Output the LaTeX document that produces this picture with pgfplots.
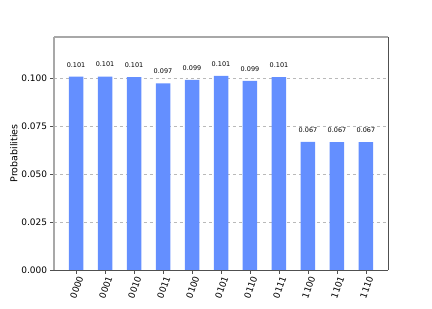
\documentclass[border=0pt]{standalone}
\usepackage{pgfplots}
\pgfplotsset{compat=1.18}
\usepackage{fontspec}
\setmainfont{DejaVu Sans}
\definecolor{barblue}{HTML}{648FFF}
\definecolor{spinegray}{HTML}{A8A8A8}
\definecolor{spinedark}{HTML}{505050}
\begin{document}
\begin{tikzpicture}
\useasboundingbox (0,0) rectangle (432bp,309bp);
\begin{axis}[
  at={(54bp,39bp)}, anchor=south west,
  scale only axis, width=334bp, height=233bp,
  clip=false,
  xmin=-0.76, xmax=10.76, ymin=0, ymax=0.1214,
  xtick={0,1,2,3,4,5,6,7,8,9,10},
  xticklabels={0000,0001,0010,0011,0100,0101,0110,0111,1100,1101,1110},
  xticklabel style={xshift=5bp, yshift=-2bp, rotate=70, anchor=east, font=\fontsize{9}{10}\selectfont, inner sep=1bp},
  ytick={0,0.025,0.05,0.075,0.1},
  yticklabel style={font=\fontsize{9}{10}\selectfont, /pgf/number format/.cd, fixed, fixed zerofill, precision=3},
  /pgf/number format/assume math mode=true,
  tick align=outside, xtick pos=bottom, ytick pos=left,
  major tick length=3.5bp,
  tick style={spinedark, line width=0.8bp},
  ymajorgrids, grid style={dashed, gray!55, line width=0.5bp},
  axis line style={draw=none},
  ylabel={Probabilities},
  ylabel style={font=\fontsize{9.5}{11}\selectfont, at={(axis description cs:-0.12,0.5)}, anchor=center},
  ybar, bar width=0.5,
  nodes near coords,
  every node near coord/.append style={font=\fontsize{6.5}{7}\selectfont, yshift=6bp, /pgf/number format/.cd, fixed, fixed zerofill, precision=3, assume math mode=true},
]
\addplot[fill=barblue, draw=none] coordinates {
(0,0.1007) (1,0.1008) (2,0.1005) (3,0.0972) (4,0.0991) (5,0.1012)
(6,0.0986) (7,0.1005) (8,0.0667) (9,0.0666) (10,0.0666)};
\draw[spinegray, line width=1.8bp] (rel axis cs:0,0) -- (rel axis cs:0,1);
\draw[spinegray, line width=1.4bp] (rel axis cs:0,1) -- (rel axis cs:1,1);
\draw[spinedark, line width=0.9bp] (rel axis cs:1,1) -- (rel axis cs:1,0);
\draw[spinedark, line width=0.9bp] (rel axis cs:1,0) -- (rel axis cs:0,0);
\end{axis}
\end{tikzpicture}
\end{document}
